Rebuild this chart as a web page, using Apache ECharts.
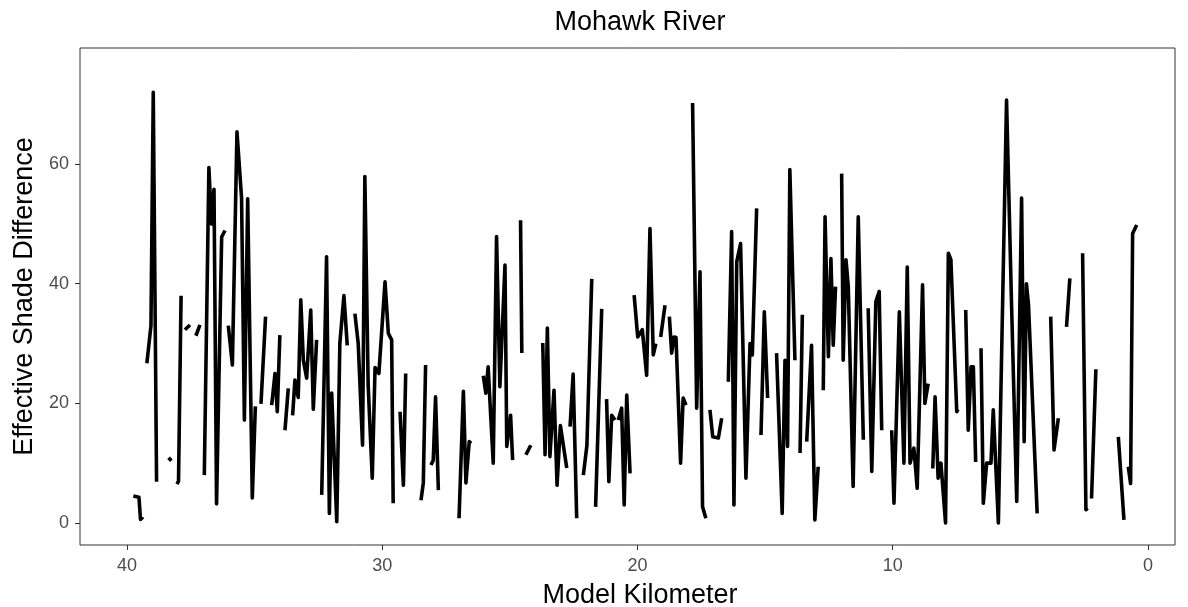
<!DOCTYPE html>
<html>
<head>
<meta charset="utf-8">
<script src="https://cdn.jsdelivr.net/npm/echarts@6/dist/echarts.min.js"></script>
<style>
html,body{margin:0;padding:0;background:#fff;}
#chart{width:1188px;height:607px;}
</style>
</head>
<body>
<div id="chart"></div>
<script>
// Model kilometer positions (null = gap in the line)
const km = [
39.75,39.53,39.47,39.37,null,
39.22,39.06,38.97,38.84,null,
38.37,38.26,null,
38.04,37.98,37.88,null,
37.73,37.53,null,
37.30,37.14,null,
36.97,36.79,36.69,36.59,36.49,36.29,36.16,null,
36.03,35.87,35.69,35.51,35.40,35.27,35.09,34.97,null,
34.75,34.57,null,
34.33,34.20,34.11,34.01,null,
33.81,33.68,null,
33.51,33.42,33.29,33.19,33.09,32.96,32.80,32.70,32.57,null,
32.37,32.18,32.07,31.98,31.78,31.66,31.50,31.37,null,
31.07,30.94,30.77,30.68,30.55,30.39,30.28,30.13,29.89,29.76,29.63,29.57,null,
29.30,29.17,29.08,null,
28.48,28.39,28.30,null,
28.09,28.00,27.91,27.80,null,
26.99,26.82,26.72,26.59,26.52,null,
26.04,25.94,25.85,25.65,25.52,25.39,25.19,25.12,24.97,24.89,null,
24.58,24.53,null,
24.37,24.18,null,
23.71,23.62,23.53,23.43,23.27,23.15,23.02,22.77,null,
22.64,22.52,22.38,null,
22.12,21.98,21.79,null,
21.64,21.40,null,
21.21,21.12,21.01,20.88,null,
20.75,20.62,20.52,20.42,20.29,null,
20.13,19.99,19.81,19.64,19.51,19.38,19.28,null,
19.09,18.92,null,
18.75,18.66,18.57,18.49,18.31,18.21,18.10,null,
17.84,17.68,17.55,17.45,17.32,null,
17.16,17.05,16.83,16.70,null,
16.44,16.31,16.22,16.11,15.96,15.75,15.59,15.50,15.33,null,
15.16,15.03,14.90,null,
14.55,14.33,14.22,14.12,14.03,13.83,null,
13.63,13.54,null,
13.37,13.18,13.05,12.92,null,
12.72,12.65,12.52,12.42,12.33,12.24,null,
12.00,11.94,11.83,11.74,11.55,11.35,11.15,null,
10.96,10.82,10.66,10.53,10.43,null,
10.04,9.95,9.74,9.56,9.43,9.32,9.17,9.04,8.83,8.74,8.61,null,
8.43,8.34,8.22,8.11,7.93,7.82,7.72,7.49,7.44,null,
7.14,7.04,6.93,6.84,6.75,null,
6.54,6.45,6.32,6.15,6.06,5.86,5.54,5.34,5.14,4.95,4.85,4.76,4.68,4.34,null,
3.81,3.68,3.51,null,
3.19,3.06,null,
2.56,2.43,2.37,null,
2.21,2.04,null,
1.16,0.94,null,
0.77,0.68,0.60,0.44
];

// Effective shade difference values (null = gap)
const shade = [
4.5,4.3,0.6,1.0,null,
26.7,33,72,6.9,null,
10.9,10.4,null,
6.5,7,38,null,
32.3,33.1,null,
31.3,33.1,null,
8,59.4,50,55.8,3.2,47.8,48.9,null,
33,26.4,65.4,54.3,17.2,54.2,4.2,19.5,null,
19.9,34.5,null,
19.7,25,18.6,31.4,null,
15.5,22.5,null,
18,23.9,21,37.3,27.2,24.2,35.6,19,30.6,null,
4.7,44.5,1.6,21.7,0.2,30,38,29.7,null,
35,30,13,57.9,23,7.5,26,25,40.3,31.7,30.6,3.3,null,
18.6,6.3,25,null,
3.8,6.7,26.4,null,
9.7,10.5,21.1,5.5,null,
0.8,22,6.7,13.6,13.3,null,
24.6,21.7,26.1,10,47.9,22.8,43.1,12.8,18,10.5,null,
50.6,28.4,null,
11.4,13,null,
30.1,11.4,32.6,11.1,22.2,6.3,16.3,9.2,null,
16.1,24.9,0.8,null,
8,13,40.8,null,
2.7,35.8,null,
20.7,6.9,18,17.2,null,
17.2,19.2,3,21.4,8.3,null,
38.1,31.1,32.3,24.7,49.2,28.1,30,null,
31.1,36.4,null,
34.5,28.4,31.1,31,10,20.9,19.7,null,
70.2,19.2,42,2.7,0.8,null,
18.9,14.4,14.2,17.5,null,
23.6,48.7,3,43.7,46.7,7.5,30,28.1,52.6,null,
14.7,35.3,20.9,null,
28.4,1.6,27.2,12.8,59.1,27.2,null,
11.7,34.8,null,
13.6,29.7,0.5,9.4,null,
22.2,51.2,27.8,44.2,29.7,39.5,null,
58.4,27.2,44,39.5,6.1,51.2,13.9,null,
35.9,8.6,37,38.7,15.5,null,
15.5,3.3,35.3,10,42.8,10,12.5,5.8,39.8,20,23.3,null,
9.1,21.1,7.5,10,0,45.1,44,18.6,19,null,
35.6,15.5,26.1,26.1,10.2,null,
29.2,3.3,10,10,18.9,0,70.7,35.9,3.6,54.3,13.6,40,36.5,1.6,null,
34.5,12.2,17.5,null,
32.8,40.9,null,
45.1,2.2,2.5,null,
4.1,25.7,null,
14.4,0.5,null,
9.4,6.6,48.4,49.8
];

const xTicks = [0, 10, 20, 30, 40];
const yTicks = [0, 20, 40, 60];

const lineData = [];
let lastKm = 0;
for (let i = 0; i < km.length; i++) {
  if (km[i] === null || shade[i] === null) {
    lineData.push([lastKm, '-']);
  } else {
    lastKm = km[i];
    lineData.push([km[i], shade[i]]);
  }
}

const chart = echarts.init(document.getElementById('chart'), null, {renderer: 'canvas'});
const font = 'Liberation Sans, Arial, sans-serif';
chart.setOption({
  animation: false,
  backgroundColor: '#ffffff',
  graphic: [
    {type: 'text', x: 640, y: 23, silent: true,
     style: {text: 'Mohawk River', fontFamily: font, fontSize: 27, fill: '#000',
             textAlign: 'center', textVerticalAlign: 'middle'}},
    {type: 'text', x: 640, y: 596, silent: true,
     style: {text: 'Model Kilometer', fontFamily: font, fontSize: 27, fill: '#000',
             textAlign: 'center', textVerticalAlign: 'middle'}}
  ],
  grid: {
    left: 80, right: 13, top: 48, bottom: 62,
    show: true, borderColor: '#333333', borderWidth: 1, backgroundColor: '#fff'
  },
  xAxis: {
    type: 'value',
    inverse: true,
    min: -1.06,
    max: 41.84,
    axisLine: {show: false, onZero: false},
    axisTick: {show: true, length: 5, customValues: xTicks, lineStyle: {color: '#333'}},
    axisLabel: {customValues: xTicks, margin: 12, fontFamily: font, fontSize: 18, color: '#4d4d4d'},
    splitLine: {show: false}
  },
  yAxis: {
    type: 'value',
    min: -3.68,
    max: 79.4,
    name: 'Effective Shade Difference',
    nameLocation: 'middle',
    nameGap: 36,
    nameRotate: 90,
    nameTextStyle: {fontFamily: font, fontSize: 27, color: '#000'},
    axisLine: {show: false, onZero: false},
    axisTick: {show: true, length: 5, customValues: yTicks, lineStyle: {color: '#333'}},
    axisLabel: {customValues: yTicks, margin: 11, fontFamily: font, fontSize: 18, color: '#4d4d4d'},
    splitLine: {show: false}
  },
  series: [{
    type: 'line',
    data: lineData,
    showSymbol: false,
    symbol: 'none',
    connectNulls: false,
    lineStyle: {color: '#000', width: 3.6, join: 'round'},
    clip: true
  }]
});
</script>
</body>
</html>
